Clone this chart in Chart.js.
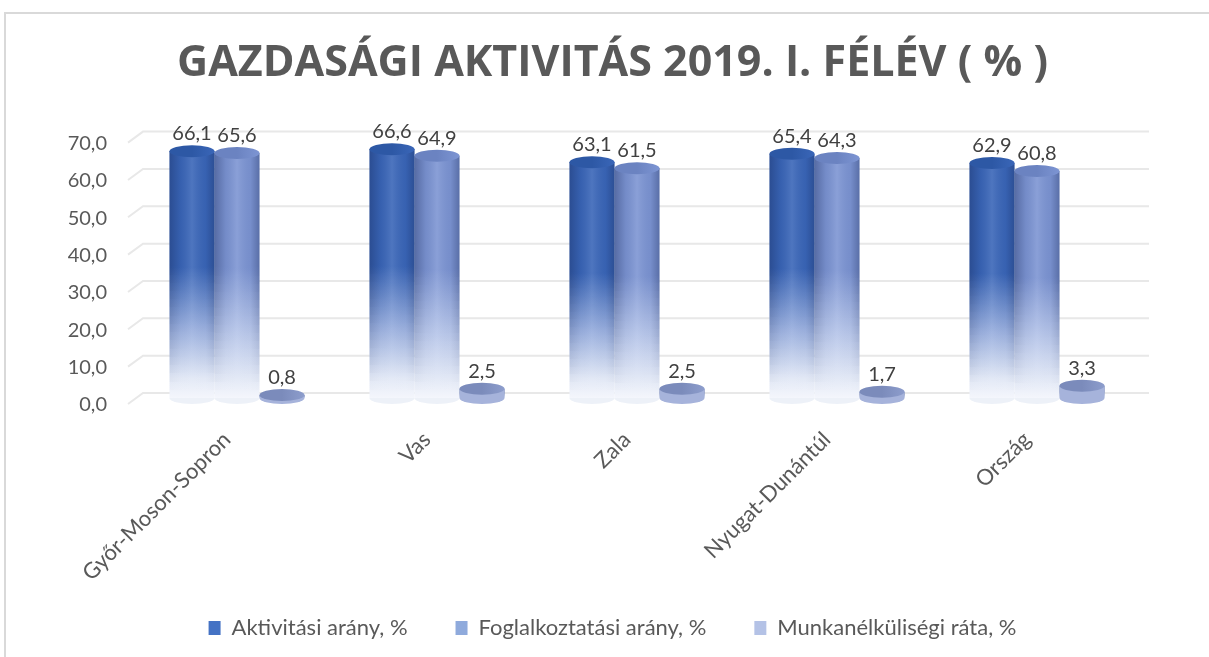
<!DOCTYPE html>
<html>
<head>
<meta charset="utf-8">
<script src="https://cdn.jsdelivr.net/npm/chart.js@4.4.0/dist/chart.umd.min.js"></script>
<style>
  html, body { margin: 0; padding: 0; background: #fff; }
  #wrap { position: absolute; left: 0; top: 0; width: 1209px; height: 657px; overflow: hidden; }
  #frame { position: absolute; left: 4px; top: 12px; width: 1300px; height: 700px;
           border-left: 2px solid #d9d9d9; border-top: 2px solid #d9d9d9; }
  canvas { position: absolute; left: 0; top: 0; }
</style>
</head>
<body>
<div id="wrap">
  <div id="frame"></div>
  <canvas id="chart" width="1209" height="657"></canvas>
</div>
<script>
const categories = ["Győr-Moson-Sopron", "Vas", "Zala", "Nyugat-Dunántúl", "Ország"];
const seriesNames = ["Aktivitási arány, %", "Foglalkoztatási arány, %", "Munkanélküliségi ráta, %"];
const aktivitasiArany = [66.1, 66.6, 63.1, 65.4, 62.9];
const foglalkoztatasiArany = [65.6, 64.9, 61.5, 64.3, 60.8];
const munkanelkulisegiRata = [0.8, 2.5, 2.5, 1.7, 3.3];
const yMin = 0, yMax = 70, yStep = 10;
const titleText = "GAZDASÁGI AKTIVITÁS 2019. I. FÉLÉV ( % )";

const FONT = "Lato, 'Open Sans', sans-serif";
const sideColors = ["#3a66b8", "#7d95d3", "#8d9dcc"];
const midColors = ["#9cb1df", "#b6c5e9", "#c0cbe9"];
const topColors = ["#2d58a5", "#6b83c1", "#7b8bbb"];
const legendColors = ["#4472c4", "#8faadc", "#b4c2e6"];
const fadeColor = "#f4f6fc";

const fmt = v => v.toFixed(1).replace(".", ",");

// vertical fade of each cylinder, relative to its own height
function barFill(ctx) {
  const si = ctx.datasetIndex;
  const chart = ctx.chart;
  if (ctx.type !== "data" || !chart.chartArea) return sideColors[si];
  const y = chart.scales.y;
  const top = y.getPixelForValue(ctx.raw);
  const base = y.getPixelForValue(0);
  if (base - top < 1) return sideColors[si];
  const g = chart.ctx.createLinearGradient(0, top, 0, base);
  g.addColorStop(0, sideColors[si]);
  g.addColorStop(0.47, sideColors[si]);
  g.addColorStop(0.72, midColors[si]);
  g.addColorStop(0.92, "#e3e9f6");
  g.addColorStop(1, fadeColor);
  return g;
}

const gridPlugin = {
  id: "floorGrid",
  beforeDatasetsDraw(chart) {
    const { ctx: c, chartArea: a, scales: { y } } = chart;
    c.save();
    c.strokeStyle = "#e8e8e8";
    c.lineWidth = 2;
    y.ticks.forEach(t => {
      const py = y.getPixelForValue(t.value);
      c.beginPath();
      c.moveTo(a.left - 9, py + 6);
      c.lineTo(a.left + 6, py - 5);
      c.lineTo(a.right + 12, py - 5);
      c.stroke();
    });
    c.restore();
  }
};

// slanted category names (drawn here so they are not clipped to the axis box)
const categoryLabels = {
  id: "categoryLabels",
  afterDraw(chart) {
    const { ctx: c, scales: { x } } = chart;
    c.save();
    c.font = "22px " + FONT;
    c.fillStyle = "#595959";
    c.textAlign = "right";
    c.textBaseline = "middle";
    categories.forEach((name, i) => {
      c.save();
      c.translate(x.getPixelForTick(i) - 10, x.top + 38);
      c.rotate(-Math.PI / 4);
      c.fillText(name, 0, 0);
      c.restore();
    });
    c.restore();
  }
};

const cylinderPlugin = {
  id: "cylinders",
  afterDatasetsDraw(chart) {
    const c = chart.ctx;
    const ry = 6;
    chart.data.datasets.forEach((ds, si) => {
      const meta = chart.getDatasetMeta(si);
      meta.data.forEach(bar => {
        const { x, y, base, width } = bar.getProps(["x", "y", "base", "width"], true);
        const left = x - width / 2, h = base - y, rx = width / 2;
        c.save();
        // side shading, fading out toward the bottom
        const sh = c.createLinearGradient(left, 0, left + width, 0);
        sh.addColorStop(0, "rgba(15,30,75,0.35)");
        sh.addColorStop(0.25, "rgba(15,30,75,0.08)");
        sh.addColorStop(0.5, "rgba(255,255,255,0.10)");
        sh.addColorStop(0.8, "rgba(15,30,75,0.06)");
        sh.addColorStop(1, "rgba(15,30,75,0.32)");
        c.fillStyle = sh;
        const steps = 30;
        for (let k = 0; k < steps; k++) {
          const t = k / steps;
          const y0 = Math.round(y + h * k / steps), y1 = Math.round(y + h * (k + 1) / steps);
          if (y1 <= y0) continue;
          c.globalAlpha = t < 0.45 ? 1 : Math.max(0, 1 - (t - 0.45) / 0.5);
          c.fillRect(left, y0, width, y1 - y0);
        }
        c.globalAlpha = 1;
        // bottom rim
        c.beginPath();
        c.ellipse(x, base, rx, ry, 0, 0, Math.PI);
        c.fillStyle = h < 20 ? "#a6b3db" : "rgba(225,231,244,0.6)";
        c.fill();
        if (h < 20) {
          c.fillStyle = "#a6b3db";
          c.fillRect(left, y, width, h);
        }
        // top cap
        const tg = c.createLinearGradient(left, 0, left + width, 0);
        tg.addColorStop(0, topColors[si]);
        tg.addColorStop(0.5, topColors[si]);
        tg.addColorStop(1, sideColors[si]);
        c.beginPath();
        c.ellipse(x, y, rx, ry, 0, 0, Math.PI * 2);
        c.fillStyle = tg;
        c.fill();
        c.restore();
      });
    });
    // value labels
    c.save();
    c.font = "20px " + FONT;
    c.fillStyle = "#404040";
    c.textAlign = "center";
    c.textBaseline = "alphabetic";
    chart.data.datasets.forEach((ds, si) => {
      chart.getDatasetMeta(si).data.forEach((bar, i) => {
        const { x, y } = bar.getProps(["x", "y"], true);
        c.fillText(fmt(ds.data[i]), x, y - ry - 5);
      });
    });
    c.restore();
  }
};

const seriesData = [aktivitasiArany, foglalkoztatasiArany, munkanelkulisegiRata];

new Chart(document.getElementById("chart"), {
  type: "bar",
  data: {
    labels: categories,
    datasets: seriesNames.map((name, si) => ({
      label: name,
      data: seriesData[si],
      backgroundColor: barFill,
      borderWidth: 0,
      categoryPercentage: 0.675,
      barPercentage: 1
    }))
  },
  options: {
    responsive: false,
    animation: false,
    layout: { padding: { left: 16, right: 0, top: 0, bottom: 8 } },
    plugins: {
      title: {
        display: true,
        text: titleText,
        color: "#595959",
        font: { family: "'Open Sans', Lato, sans-serif", size: 43, weight: "bold" },
        padding: { top: 38, bottom: 47 }
      },
      legend: {
        position: "bottom",
        labels: {
          color: "#595959",
          font: { family: FONT, size: 22 },
          boxWidth: 12,
          boxHeight: 14,
          padding: 48,
          generateLabels: () => seriesNames.map((n, i) => ({
            text: n, fillStyle: legendColors[i], strokeStyle: legendColors[i],
            lineWidth: 0, hidden: false, datasetIndex: i, fontColor: "#595959"
          }))
        }
      },
      tooltip: { enabled: false }
    },
    scales: {
      x: {
        grid: { display: false },
        border: { display: false },
        afterFit: s => { s.height = 171; },
        ticks: { display: false }
      },
      y: {
        min: yMin,
        max: yMax,
        grid: { display: false, drawTicks: false },
        border: { display: false },
        afterFit: s => { s.width = 121; },
        ticks: {
          stepSize: yStep,
          color: "#595959",
          font: { family: FONT, size: 20 },
          padding: 30,
          labelOffset: 7,
          callback: v => fmt(v)
        }
      },
      // empty right-hand spacer so the plot ends where the reference's does
      spacer: {
        type: "linear",
        position: "right",
        display: true,
        grid: { display: false, drawTicks: false },
        border: { display: false },
        ticks: { display: false },
        afterFit: s => { s.width = 72; }
      }
    }
  },
  plugins: [gridPlugin, cylinderPlugin, categoryLabels]
});
</script>
</body>
</html>
